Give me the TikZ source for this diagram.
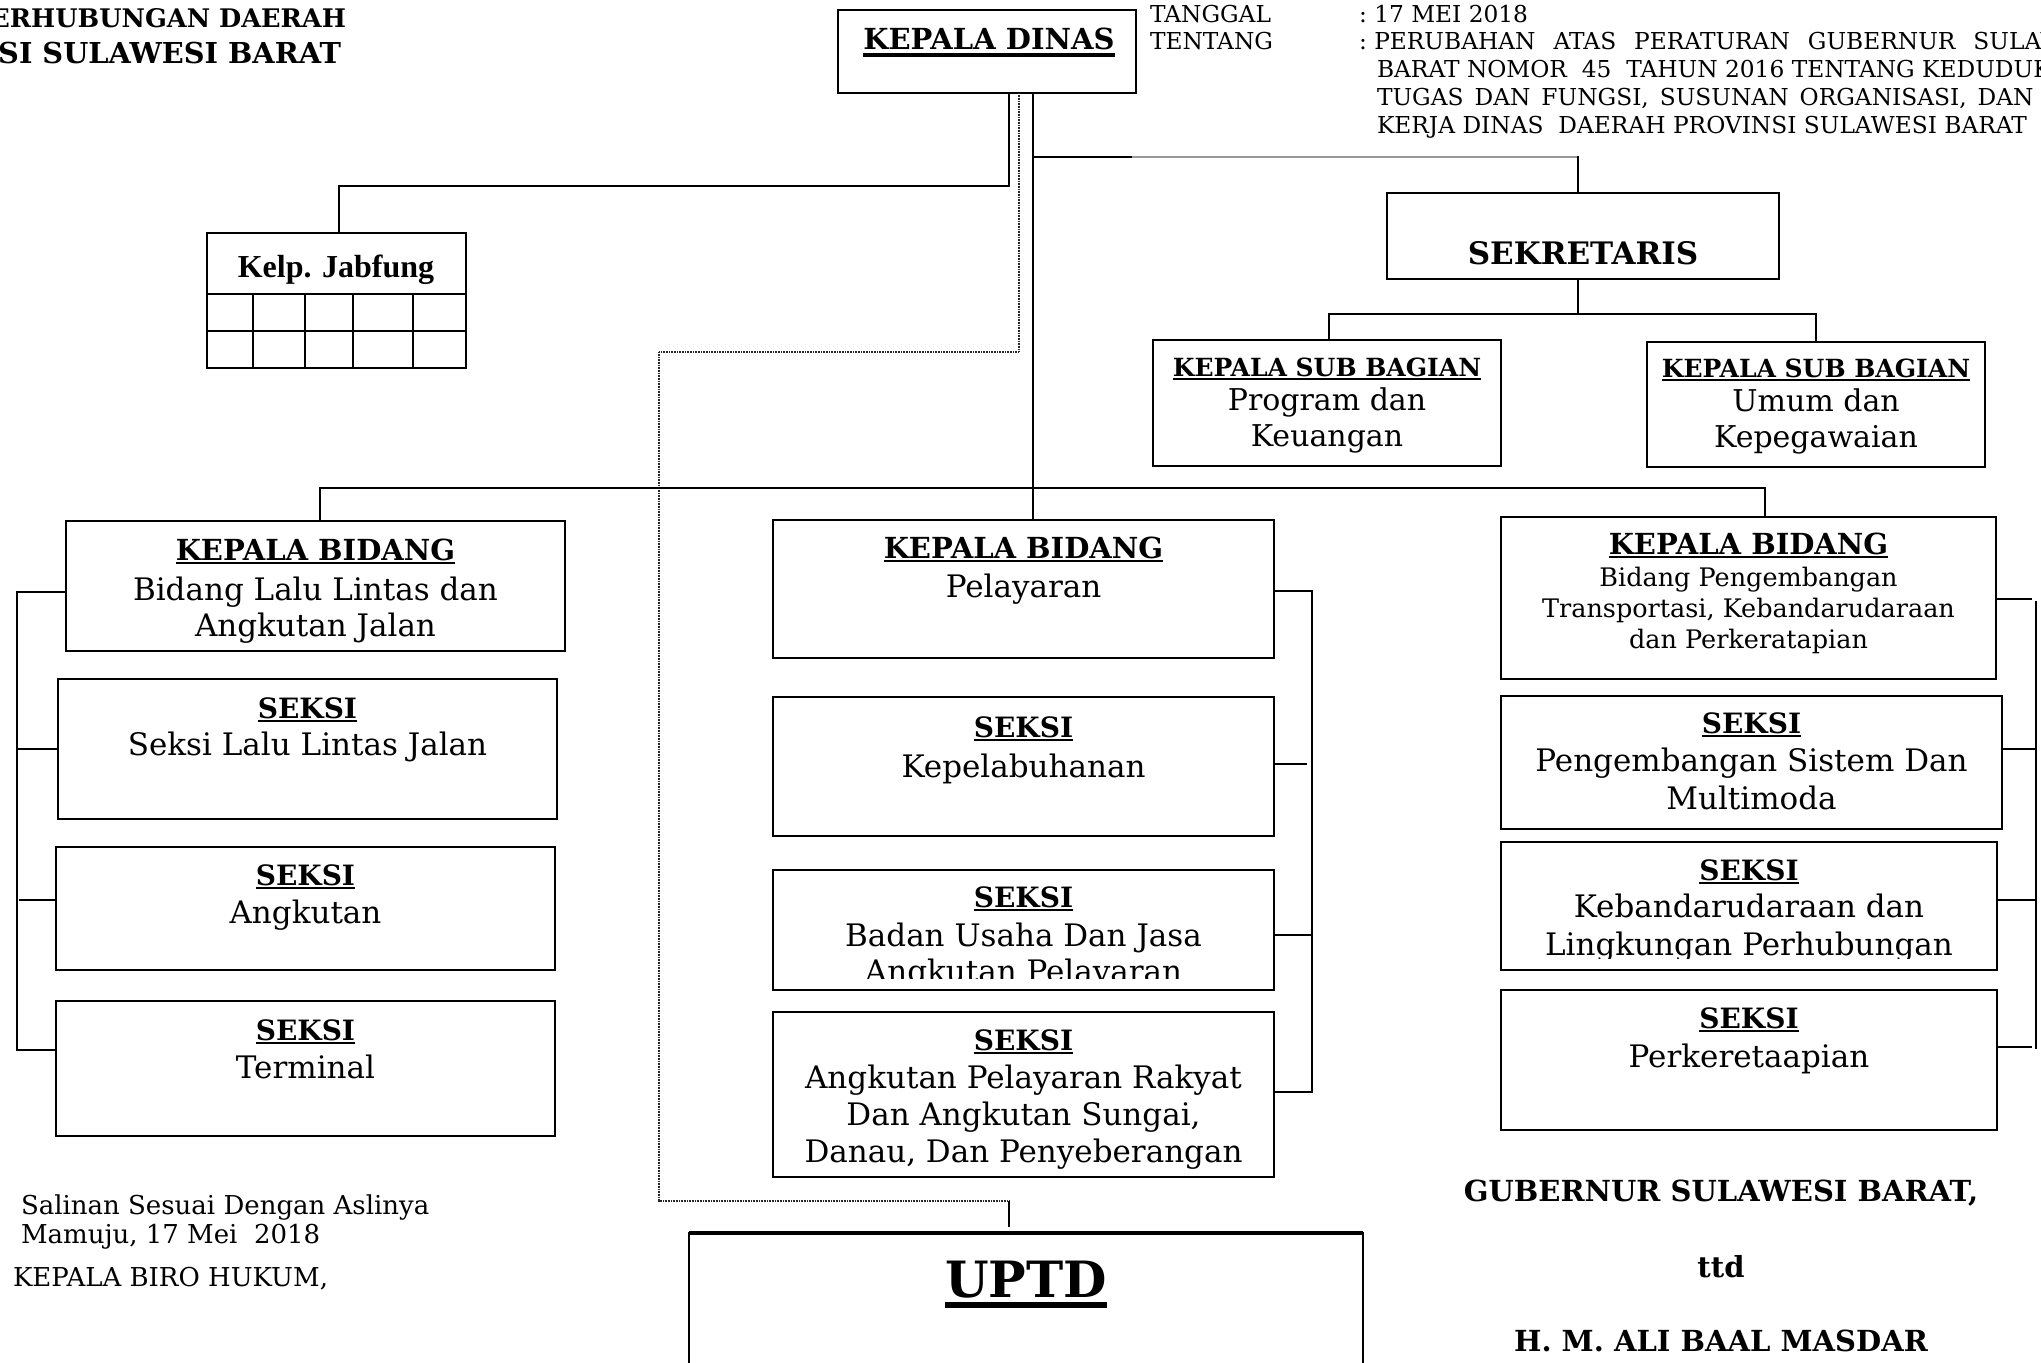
\documentclass[tikz,border=0pt]{standalone}
\usepackage{fontspec}
\setmainfont{DejaVu Serif}
\newfontfamily\timesf{Liberation Serif}
\newsavebox\ulbox
\newcommand\ulr[3]{\sbox\ulbox{#3}\rlap{\rule[-#1]{\wd\ulbox}{#2}}\usebox\ulbox}
\begin{document}
\begin{tikzpicture}[x=1pt,y=-1pt,
  box/.style={draw, line width=2.4pt, rectangle, inner sep=0pt, outer sep=0pt},
  lnk/.style={line width=2.4pt},
  dotl/.style={line width=2.2pt, black!85, dash pattern=on 1pt off 0.6pt},
  t/.style={anchor=base, inner sep=0pt, outer sep=0pt},
  bd/.style={t, font=\fontsize{31}{37}\selectfont},
  bdm/.style={t, font=\fontsize{30}{36}\selectfont},
  bds/.style={t, font=\fontsize{25.5}{31}\selectfont},
  hd/.style={t, font=\bfseries\fontsize{29}{35}\selectfont},
  hdsk/.style={t, font=\bfseries\fontsize{28}{34}\selectfont},
  hds/.style={t, font=\bfseries\fontsize{25}{30}\selectfont},
  sm/.style={t, anchor=base west, font=\fontsize{23.3}{28}\selectfont},
  bl/.style={t, anchor=base west, font=\fontsize{26}{31}\selectfont},
  br/.style={t, font=\bfseries\fontsize{29}{35}\selectfont},
  ttl/.style={t, anchor=base east, font=\bfseries\fontsize{27}{32}\selectfont}
]
\useasboundingbox (0,0) rectangle (2041,1362);
\clip (0,0) rectangle (2041,1362);

% ---------- boxes ----------
\node[box, minimum width=298pt, minimum height=83pt] (kd) at (987,51.5) {};
\node[box, minimum width=259pt, minimum height=135pt] (jab) at (336.5,300.5) {};
\node[box, minimum width=392pt, minimum height=86pt] (sekr) at (1583,236) {};
\node[box, minimum width=348pt, minimum height=126pt] (sb1) at (1327,403) {};
\node[box, minimum width=338pt, minimum height=125pt] (sb2) at (1816,404.5) {};

\node[box, minimum width=499pt, minimum height=130pt] (kb1) at (315.5,586) {};
\node[box, minimum width=499pt, minimum height=140pt] (s11) at (307.5,749) {};
\node[box, minimum width=499pt, minimum height=123pt] (s12) at (305.5,908.5) {};
\node[box, minimum width=499pt, minimum height=135pt] (s13) at (305.5,1068.5) {};

\node[box, minimum width=501pt, minimum height=138pt] (kb2) at (1023.5,589) {};
\node[box, minimum width=501pt, minimum height=139pt] (s21) at (1023.5,766.5) {};
\node[box, minimum width=501pt, minimum height=120pt] (s22) at (1023.5,930) {};
\node[box, minimum width=501pt, minimum height=165pt] (s23) at (1023.5,1094.5) {};

\node[box, minimum width=495pt, minimum height=162pt] (kb3) at (1748.5,598) {};
\node[box, minimum width=501pt, minimum height=133pt] (s31) at (1751.5,762.5) {};
\node[box, minimum width=496pt, minimum height=128pt] (s32) at (1749,906) {};
\node[box, minimum width=496pt, minimum height=140pt] (s33) at (1749,1060) {};

\node[box, minimum width=674pt, minimum height=187pt] (uptd) at (1026,1326.5) {};
\draw[line width=4pt] (uptd.north west) -- (uptd.north east);

% Jabfung grid
\draw[lnk] (207,294) -- (466,294);
\draw[lnk] (207,331) -- (466,331);
\foreach \gx in {253,305,353,413} {\draw[lnk] (\gx,294) -- (\gx,369);}

% ---------- connectors ----------
\draw[lnk] (kd.south -| 1009,0) -- (1009,186) -- (339,186) -- (jab.north -| 339,0);
\draw[dotl] (kd.south -| 1019,0) -- (1019,352) -- (659,352) -- (659,1201) -- (1009,1201);
\draw[lnk] (1009,1201) -- (1009,1227);
\coordinate (uptdin) at (1009,1227);
\draw[lnk] (kd.south -| 1033,0) -- (kb2.north -| 1033,0);
\draw[lnk] (kb1.north -| 320,0) -- (320,488) -- (1765,488) -- (kb3.north -| 1765,0);
\draw[lnk] (1033,157) -- (1132,157);
\draw[line width=1.3pt, black!40] (1132,157) -- (1578,157);
\draw[lnk] (1578,156) -- (sekr.north -| 1578,0);
\draw[lnk] (sekr.south -| 1578,0) -- (1578,314);
\draw[lnk] (sb1.north -| 1329,0) -- (1329,314) -- (1816,314) -- (sb2.north -| 1816,0);

% left bracket
\draw[lnk] (kb1.west |- 0,592) -- (17,592) -- (17,1050) -- (s13.west |- 0,1050);
\draw[lnk] (17,749) -- (s11.west |- 0,749);
\draw[lnk] (19,900) -- (s12.west |- 0,900);
% middle bracket
\draw[lnk] (kb2.east |- 0,591) -- (1312,591) -- (1312,1092) -- (s23.east |- 0,1092);
\draw[lnk] (s21.east |- 0,764) -- (1307,764);
\draw[lnk] (s22.east |- 0,935) -- (1312,935);
% right bracket
\draw[lnk] (kb3.east |- 0,599) -- (2032,599);
\draw[lnk] (2036,601) -- (2036,1049);
\draw[lnk] (s31.east |- 0,749) -- (2036,749);
\draw[lnk] (s32.east |- 0,900) -- (2036,900);
\draw[lnk] (s33.east |- 0,1047) -- (2032,1047);

% ---------- texts ----------
\node[ttl, font=\bfseries\fontsize{25.6}{31}\selectfont] (ti1) at (346,28) {PERHUBUNGAN DAERAH};
\node[ttl, font=\bfseries\fontsize{28.8}{34}\selectfont] (ti2) at (341,64) {PROVINSI SULAWESI BARAT};

\node[hd] (kdt) at (989,50) {\ulr{7pt}{3.5pt}{KEPALA DINAS}};

\node[sm] (tg) at (1150,23) {TANGGAL};
\node[sm] (tt) at (1150,50) {TENTANG};
\node[sm] (tgv) at (1359,23) {:\ 17 MEI 2018};
\node[sm] (l1) at (1359,50) {:\ PERUBAHAN\hspace{18pt}ATAS\hspace{18pt}PERATURAN\hspace{18pt}GUBERNUR\hspace{18pt}SULAWESI};
\node[sm] (l2) at (1377,78) {BARAT NOMOR\ \ 45\ \ TAHUN 2016 TENTANG KEDUDUKAN,};
\node[sm] (l3) at (1377,106) {TUGAS\hspace{11pt}DAN\hspace{11pt}FUNGSI,\hspace{11pt}SUSUNAN\hspace{11pt}ORGANISASI,\hspace{11pt}DAN\hspace{11pt}TATA};
\node[sm] (l4) at (1377,134) {KERJA DINAS\ \ DAERAH PROVINSI SULAWESI BARAT};

\node[t, font=\timesf\bfseries\fontsize{32}{38}\selectfont] (jabt) at (336,277) {Kelp. Jabfung};

\node[t, font=\bfseries\fontsize{31}{37}\selectfont] (sekrt) at (1583,264) {SEKRETARIS};

\node[hds] (sb1a) at (1327,376) {\ulr{4pt}{2.2pt}{KEPALA SUB BAGIAN}};
\node[bdm] (sb1b) at (1327,410) {Program dan};
\node[bdm] (sb1c) at (1327,446) {Keuangan};
\node[hds] (sb2a) at (1816,377) {\ulr{4pt}{2.2pt}{KEPALA SUB BAGIAN}};
\node[bdm] (sb2b) at (1816,411) {Umum dan};
\node[bdm] (sb2c) at (1816,447) {Kepegawaian};

% left column
\node[hd] (kb1a) at (315.5,560) {\ulr{4pt}{2.4pt}{KEPALA BIDANG}};
\node[bd] (kb1b) at (315.5,600) {Bidang Lalu Lintas dan};
\node[bd] (kb1c) at (315.5,636) {Angkutan Jalan};
\node[hdsk] (s11a) at (307.5,718) {\ulr{4pt}{2.4pt}{SEKSI}};
\node[bd] (s11b) at (307.5,755) {Seksi Lalu Lintas Jalan};
\node[hdsk] (s12a) at (305.5,885) {\ulr{4pt}{2.4pt}{SEKSI}};
\node[bd] (s12b) at (305.5,923) {Angkutan};
\node[hdsk] (s13a) at (305.5,1040) {\ulr{4pt}{2.4pt}{SEKSI}};
\node[bd] (s13b) at (305.5,1078) {Terminal};

% middle column
\node[hd] (kb2a) at (1023.5,558) {\ulr{4pt}{2.4pt}{KEPALA BIDANG}};
\node[bd] (kb2b) at (1023.5,597) {Pelayaran};
\node[hdsk] (s21a) at (1023.5,737) {\ulr{4pt}{2.4pt}{SEKSI}};
\node[bd] (s21b) at (1023.5,777) {Kepelabuhanan};
\node[hdsk] (s22a) at (1023.5,907) {\ulr{4pt}{2.4pt}{SEKSI}};
\node[bd] (s22b) at (1023.5,946) {Badan Usaha Dan Jasa};
\begin{scope}
  \clip (773,950) rectangle (1274,978);
  \node[bd] (s22c) at (1023.5,982) {Angkutan Pelayaran};
\end{scope}
\node[hdsk] (s23a) at (1023.5,1050) {\ulr{4pt}{2.4pt}{SEKSI}};
\node[bd] (s23b) at (1023.5,1088) {Angkutan Pelayaran Rakyat};
\node[bd] (s23c) at (1023.5,1125) {Dan Angkutan Sungai,};
\node[bd] (s23d) at (1023.5,1162) {Danau, Dan Penyeberangan};

% right column
\node[hd] (kb3a) at (1748.5,554) {\ulr{4pt}{2.4pt}{KEPALA BIDANG}};
\node[bds] (kb3b) at (1748.5,586) {Bidang Pengembangan};
\node[bds] (kb3c) at (1748.5,617) {Transportasi, Kebandarudaraan};
\node[bds] (kb3d) at (1748.5,648) {dan Perkeratapian};
\node[hdsk] (s31a) at (1751.5,733) {\ulr{4pt}{2.4pt}{SEKSI}};
\node[bd] (s31b) at (1751.5,771) {Pengembangan Sistem Dan};
\node[bd] (s31c) at (1751.5,809) {Multimoda};
\node[hdsk] (s32a) at (1749,880) {\ulr{4pt}{2.4pt}{SEKSI}};
\node[bd] (s32b) at (1749,917) {Kebandarudaraan dan};
\begin{scope}
  \clip (1501,925) rectangle (1997,958);
  \node[bd] (s32c) at (1749,955) {Lingkungan Perhubungan};
\end{scope}
\node[hdsk] (s33a) at (1749,1028) {\ulr{4pt}{2.4pt}{SEKSI}};
\node[bd] (s33b) at (1749,1067) {Perkeretaapian};

% UPTD
\node[t, font=\bfseries\fontsize{50}{60}\selectfont] (uptdt) at (1026,1297) {\ulr{11pt}{6pt}{UPTD}};

% bottom texts
\node[bl] (bl1) at (21,1214) {Salinan Sesuai Dengan Aslinya};
\node[bl] (bl2) at (21,1243) {Mamuju, 17 Mei\ \ 2018};
\node[bl] (bl3) at (13,1286) {KEPALA BIRO HUKUM,};
\node[br] (br1) at (1721,1201) {GUBERNUR SULAWESI BARAT,};
\node[br] (br2) at (1721,1277) {ttd};
\node[br] (br3) at (1721,1351) {H. M. ALI BAAL MASDAR};
\end{tikzpicture}
\end{document}
